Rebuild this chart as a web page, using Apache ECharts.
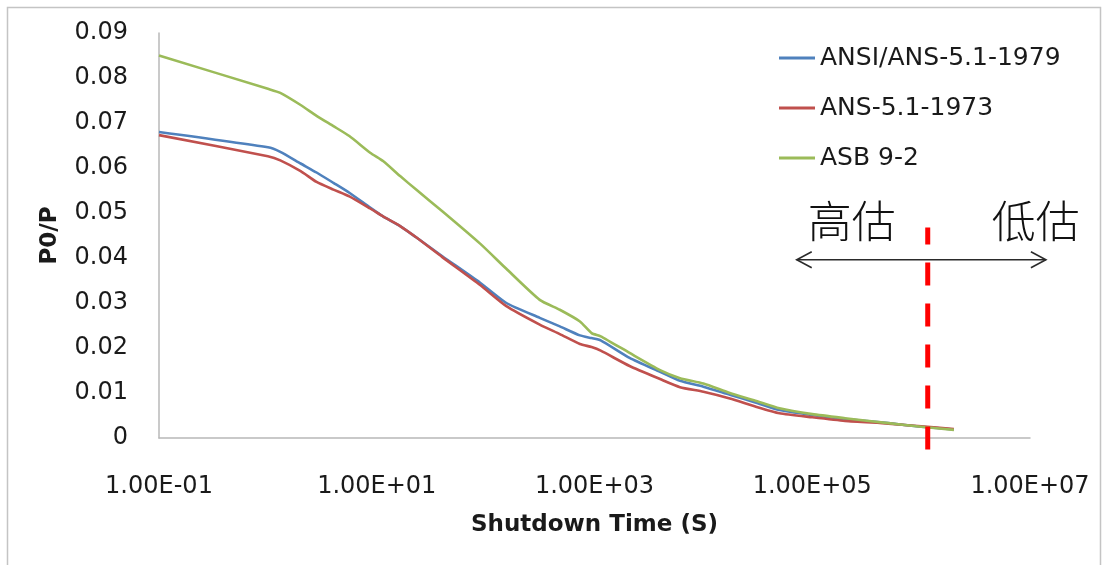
<!DOCTYPE html>
<html>
<head>
<meta charset="utf-8">
<script src="https://cdn.jsdelivr.net/npm/echarts@6/dist/echarts.min.js"></script>
<style>
  html, body { margin: 0; padding: 0; background: #fff; }
  #chart { width: 1104px; height: 565px; }
</style>
</head>
<body>
<div id="chart"></div>
<script>
// Decay heat ratio P0/P versus shutdown time (seconds, log scale)
const seriesNames = ['ANSI/ANS-5.1-1979', 'ANS-5.1-1973', 'ASB 9-2'];
const times = [0.1, 1, 1.3, 2, 2.8, 4, 5.6, 8.7, 11.5, 16.4, 23, 40, 89, 155, 314, 480, 735, 940, 1140, 2100, 4000, 6100, 1e4, 1.75e4, 3e4, 5e4, 1e5, 2e5, 5e5, 1e6, 2e6];
const ans1979 = [0.068, 0.0646, 0.0636, 0.0610, 0.0590, 0.0567, 0.0545, 0.0512, 0.0492, 0.0471, 0.0446, 0.0404, 0.0345, 0.0300, 0.0267, 0.0248, 0.0228, 0.0222, 0.0217, 0.0178, 0.0147, 0.0127, 0.0114, 0.0096, 0.0079, 0.0062, 0.0051, 0.0042, 0.0033, 0.0025, 0.0019];
const ans1973 = [0.0673, 0.0626, 0.0617, 0.0593, 0.0569, 0.0552, 0.0537, 0.0510, 0.0492, 0.0471, 0.0446, 0.0402, 0.0340, 0.0293, 0.0252, 0.0231, 0.0209, 0.0202, 0.0194, 0.0160, 0.0131, 0.0113, 0.0103, 0.0088, 0.0070, 0.0055, 0.0046, 0.0038, 0.0032, 0.0026, 0.0020];
const asb92 = [0.085, 0.0776, 0.0767, 0.0740, 0.0716, 0.0693, 0.0671, 0.0634, 0.0615, 0.0582, 0.0552, 0.0504, 0.0432, 0.0376, 0.0307, 0.0285, 0.0259, 0.0233, 0.0226, 0.0189, 0.0151, 0.0133, 0.0121, 0.0100, 0.0083, 0.0066, 0.0053, 0.0044, 0.0033, 0.0025, 0.0018];

// Labelled decades on the time axis
const xTickExps = [-1, 1, 3, 5, 7];
const xTickLabels = ['1.00E-01', '1.00E+01', '1.00E+03', '1.00E+05', '1.00E+07'];

// Over/under-estimation boundary and its annotation
const boundaryTime = 1.15e6;
const boundaryTop = 0.0468;
const boundaryBottom = -0.003;
const arrowY = 0.0396;
const arrowLeftTime = 7.2e4;
const arrowRightTime = 1.4e7;
const noteY = 0.0482;
const overText = '高估', overTime = 2.3e5;
const underText = '低估', underTime = 1.13e7;

const colors = ['#4F81BD', '#C0504D', '#9BBB59'];
const latin = '"DejaVu Sans", sans-serif';
const cjk = '"Noto Sans CJK SC", sans-serif';

function pairs(vals) { return times.map((t, i) => [t, vals[i]]); }

const chart = echarts.init(document.getElementById('chart'), null, { renderer: 'canvas' });

const lineSeries = [ans1979, ans1973, asb92].map((vals, i) => ({
  name: seriesNames[i],
  type: 'line',
  data: pairs(vals),
  showSymbol: false,
  smooth: 0.2,
  lineStyle: { width: 2.6, color: colors[i], join: 'round' },
  itemStyle: { color: colors[i] },
  z: 2 + i
}));

chart.setOption({
  animation: false,
  backgroundColor: '#fff',
  grid: { left: 159, right: 74, top: 33, bottom: 127 },
  legend: {
    orient: 'vertical',
    left: 774,
    top: 38,
    icon: 'rect',
    itemWidth: 36,
    itemHeight: 3,
    itemGap: 20,
    textStyle: { fontFamily: latin, fontSize: 25, color: '#1a1a1a', lineHeight: 30 },
    data: seriesNames
  },
  xAxis: {
    type: 'log',
    logBase: 10,
    min: 0.1,
    max: 1e7,
    splitNumber: 8,
    name: 'Shutdown Time (S)',
    nameLocation: 'middle',
    nameGap: 76,
    nameTextStyle: { fontFamily: latin, fontSize: 23, fontWeight: 'bold', color: '#1a1a1a' },
    axisLine: { lineStyle: { color: '#b8b8b8', width: 1.5 } },
    axisTick: { show: false },
    splitLine: { show: false },
    minorTick: { show: false },
    axisLabel: {
      fontFamily: latin, fontSize: 24, color: '#1a1a1a', margin: 37,
      formatter: v => {
        const e = Math.round(Math.log10(v));
        const k = xTickExps.indexOf(e);
        return k >= 0 ? xTickLabels[k] : '';
      }
    }
  },
  yAxis: {
    type: 'value',
    min: 0,
    max: 0.09,
    interval: 0.01,
    name: 'P0/P',
    nameLocation: 'middle',
    nameGap: 97,
    nameTextStyle: { fontFamily: latin, fontSize: 23, fontWeight: 'bold', color: '#1a1a1a' },
    axisLine: { show: true, lineStyle: { color: '#b8b8b8', width: 1.5 } },
    axisTick: { show: false },
    splitLine: { show: false },
    axisLabel: {
      fontFamily: latin, fontSize: 24, color: '#1a1a1a', margin: 31,
      formatter: v => (v === 0 ? '0' : v.toFixed(2))
    }
  },
  series: lineSeries
});

// Annotation: dashed boundary, two-way arrow and labels, placed in data space
const px = (t, v) => chart.convertToPixel({ gridIndex: 0 }, [t, v]);
const bTop = px(boundaryTime, boundaryTop);
const bBot = px(boundaryTime, boundaryBottom);
const aL = px(arrowLeftTime, arrowY);
const aR = px(arrowRightTime, arrowY);
const nO = px(overTime, noteY);
const nU = px(underTime, noteY);
const head = 15, spread = 8;
const ink = '#2a2a2a';

chart.setOption({
  graphic: [
    {
      type: 'rect', silent: true, z: 0,
      shape: { x: 7.5, y: 7.5, width: 1093, height: 580 },
      style: { fill: null, stroke: '#c4c4c4', lineWidth: 1.5 }
    },
    {
      type: 'polyline', silent: true, z: 10,
      shape: { points: [[aL[0] + head, aL[1] - spread], [aL[0], aL[1]], [aL[0] + head, aL[1] + spread]] },
      style: { stroke: ink, lineWidth: 1.6, fill: null }
    },
    {
      type: 'line', silent: true, z: 10,
      shape: { x1: aL[0], y1: aL[1], x2: aR[0], y2: aR[1] },
      style: { stroke: ink, lineWidth: 1.6 }
    },
    {
      type: 'polyline', silent: true, z: 10,
      shape: { points: [[aR[0] - head, aR[1] - spread], [aR[0], aR[1]], [aR[0] - head, aR[1] + spread]] },
      style: { stroke: ink, lineWidth: 1.6, fill: null }
    },
    {
      type: 'line', silent: true, z: 11,
      shape: { x1: bTop[0], y1: bTop[1], x2: bBot[0], y2: bBot[1] },
      style: { stroke: '#ff0000', lineWidth: 5, lineDash: [23, 18], lineDashOffset: 6 }
    },
    {
      type: 'text', silent: true, z: 10,
      x: nO[0], y: nO[1],
      style: { text: overText, font: '300 44px ' + cjk, fill: '#111', align: 'center', verticalAlign: 'middle' }
    },
    {
      type: 'text', silent: true, z: 10,
      x: nU[0], y: nU[1],
      style: { text: underText, font: '300 44px ' + cjk, fill: '#111', align: 'center', verticalAlign: 'middle' }
    }
  ]
});
</script>
</body>
</html>
